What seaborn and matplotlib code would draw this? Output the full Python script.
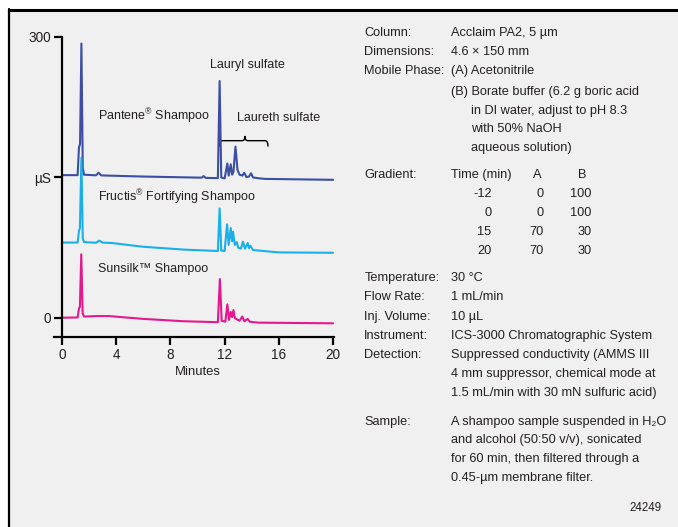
import matplotlib
matplotlib.use("Agg")
import matplotlib.pyplot as plt
from matplotlib.path import Path
from matplotlib.patches import PathPatch, Rectangle
from matplotlib.lines import Line2D
import seaborn as sns
import pandas as pd

# ---------------- data ----------------
pantene_t = [0, 1.15, 1.25, 1.33, 1.43, 1.53, 1.62, 2.5, 2.7, 2.9, 6, 10.3, 10.45, 10.6, 11.5,
             11.63, 11.75, 12.0, 12.2, 12.3, 12.45, 12.55, 12.65, 12.8, 12.95, 13.1, 13.3, 13.45,
             13.6, 13.8, 13.95, 14.1, 14.6, 15, 20]
pantene_v = [152.5, 152.5, 182, 186, 293, 160, 153, 152.3, 155, 152.2, 151, 149.8, 151.5, 149.6, 149.3,
             253, 150, 149, 165, 152, 164, 153, 156, 183, 158, 153, 152, 155,
             150.5, 151, 154.5, 150, 149, 148.5, 147.5]

fructis_t = [0, 1.15, 1.25, 1.32, 1.43, 1.53, 1.62, 2.5, 2.75, 3.0, 3.7, 6, 9, 11.5,
             11.63, 11.75, 12.0, 12.18, 12.3, 12.45, 12.55, 12.62, 12.75, 12.9, 13.0, 13.2,
             13.35, 13.5, 13.7, 13.8, 13.9, 14.1, 14.5, 16, 20]
fructis_v = [80.5, 80.5, 93, 96, 171, 85, 81, 80.3, 82.5, 80.5, 80, 76, 73, 71.5,
             117, 72, 71.5, 100, 78, 96, 82, 92, 78, 81, 75, 74,
             81.5, 74, 80, 74.5, 77, 72.5, 72, 70, 69.6]

sunsilk_t = [0, 1.15, 1.25, 1.32, 1.42, 1.52, 1.62, 2.5, 3.5, 6, 9, 11.5,
             11.65, 11.78, 12.05, 12.2, 12.32, 12.45, 12.55, 12.65, 12.75, 12.85, 13.1,
             13.3, 13.45, 13.7, 13.85, 14.5, 20]
sunsilk_v = [0.3, 0.5, 10, 12, 68, 5, 1.5, 2, 2, -1, -3.5, -4.5,
             41.5, -3, -4, 14.5, -2, 6.5, 1, 8.5, 0, -1, -3,
             1.5, -3.5, -1, -4, -5, -5.7]

x_ticks = [0, 4, 8, 12, 16, 20]
y_ticks = [0, 150, 300]
y_tick_labels = ["0", "\u00b5S", "300"]

colors = {"Pantene": "#3b4ea3", "Fructis": "#19afe9", "Sunsilk": "#e5178c"}

# ---------------- style ----------------
sns.set_theme(style="ticks")
plt.rcParams["font.family"] = ["Liberation Sans", "DejaVu Sans"]
plt.rcParams["mathtext.fontset"] = "custom"
plt.rcParams["mathtext.rm"] = "Liberation Sans"
FS = 9.2
LFS = 9.0
TXT = "#231f20"

W, H = 678, 527
fig = plt.figure(figsize=(W / 100, H / 100), dpi=100, facecolor="white")

# panel background and frame
fig.patches.append(Rectangle((10 / W, 0), 1, 1 - 10.5 / H, transform=fig.transFigure,
                             facecolor="#f0f0f0", edgecolor="none", zorder=-10))
fig.add_artist(Line2D([9.3 / W, 9.3 / W], [0, 1 - 9 / H], color="black", lw=1.6,
                      transform=fig.transFigure))
fig.add_artist(Line2D([8.5 / W, 1], [1 - 10 / H, 1 - 10 / H], color="black", lw=2.2,
                      transform=fig.transFigure))

# axes placement (pixels -> fraction)
left_px, right_px = 53.9, 334.4
top_px, bot_px = 37.0, 336.7
ax = fig.add_axes([left_px / W, 1 - bot_px / H, (right_px - left_px) / W, (bot_px - top_px) / H])
ax.set_facecolor("none")

frames = []
for name, t, v in [("Pantene", pantene_t, pantene_v),
                   ("Fructis", fructis_t, fructis_v),
                   ("Sunsilk", sunsilk_t, sunsilk_v)]:
    frames.append(pd.DataFrame({"Minutes": t, "signal": v, "sample": name}))
df = pd.concat(frames, ignore_index=True)

for name in ["Pantene", "Fructis", "Sunsilk"]:
    sns.lineplot(data=df[df["sample"] == name], x="Minutes", y="signal", color=colors[name],
                 lw=1.5, estimator=None, sort=False, ax=ax, legend=False)

ax.set_xlim(-0.6, 20.1)
ax.set_ylim(-20, 300)
ax.spines["left"].set_position(("data", 0))
ax.spines["left"].set_bounds(-20, 300)
ax.spines["top"].set_visible(False)
ax.spines["right"].set_visible(False)
for s in ["left", "bottom"]:
    ax.spines[s].set_linewidth(1.6)
    ax.spines[s].set_color("black")
ax.set_xticks(x_ticks)
ax.set_xticklabels([str(x) for x in x_ticks])
ax.set_yticks(y_ticks)
ax.set_yticklabels(y_tick_labels)
ax.tick_params(axis="both", direction="out", length=5.8, width=1.6, color="black",
               labelsize=9.8, labelcolor=TXT, pad=1.8)
ax.tick_params(axis="x", pad=2.6)
ax.set_xlabel("")
ax.set_ylabel("")

# brace over laureth peaks
verts = [(11.6, 183), (11.6, 189.3), (11.8, 189.3), (13.3, 189.3), (13.5, 189.3), (13.5, 194.3),
         (13.5, 189.3), (13.7, 189.3), (15.0, 189.3), (15.2, 189.3), (15.2, 183)]
codes = [Path.MOVETO, Path.CURVE3, Path.CURVE3, Path.LINETO, Path.CURVE3, Path.CURVE3,
         Path.CURVE3, Path.CURVE3, Path.LINETO, Path.CURVE3, Path.CURVE3]
ax.add_patch(PathPatch(Path(verts, codes), facecolor="none", edgecolor="black", lw=1.0))


def ftext(x, y, s, ha="left", va="center", size=FS):
    fig.text(x / W, 1 - y / H, s, ha=ha, va=va, fontsize=size, color=TXT)


ftext(247, 65, "Lauryl sulfate", ha="center", size=LFS)
ftext(98, 116, "Pantene$^{\\mathregular{\u00ae}}$ Shampoo", size=LFS)
ftext(237, 118, "Laureth sulfate", size=LFS)
ftext(98, 197, "Fructis$^{\\mathregular{\u00ae}}$ Fortifying Shampoo", size=LFS)
ftext(98, 269, "Sunsilk\u2122 Shampoo", size=LFS)
ftext(197.5, 372, "Minutes", ha="center", size=9.4)

# conditions panel
LX, VX, IX = 364.3, 450.7, 470.7
rows = [
    (33.3, "Column:", "Acclaim PA2, 5 \u00b5m", VX),
    (51.7, "Dimensions:", "4.6 \u00d7 150 mm", VX),
    (71.0, "Mobile Phase:", "(A) Acetonitrile", VX),
    (91.7, "", "(B) Borate buffer (6.2 g boric acid", VX),
    (110.7, "", "in DI water, adjust to pH 8.3", IX),
    (129.3, "", "with 50% NaOH", IX),
    (148.3, "", "aqueous solution)", IX),
    (175.0, "Gradient:", "Time (min)", VX),
    (278.3, "Temperature:", "30 \u00b0C", VX),
    (296.7, "Flow Rate:", "1 mL/min", VX),
    (316.7, "Inj. Volume:", "10 \u00b5L", VX),
    (336.0, "Instrument:", "ICS-3000 Chromatographic System", VX),
    (355.0, "Detection:", "Suppressed conductivity (AMMS III", VX),
    (374.0, "", "4 mm suppressor, chemical mode at", VX),
    (393.3, "", "1.5 mL/min with 30 mN sulfuric acid)", VX),
    (421.7, "Sample:", "A shampoo sample suspended in H\u2082O", VX),
    (440.0, "", "and alcohol (50:50 v/v), sonicated", VX),
    (459.0, "", "for 60 min, then filtered through a", VX),
    (477.7, "", "0.45-\u00b5m membrane filter.", VX),
]
for y, lab, val, vx in rows:
    if lab:
        ftext(LX, y, lab)
    ftext(vx, y, val)

ftext(537.7, 175.0, "A", ha="center")
ftext(582.2, 175.0, "B", ha="center")

grad_time = ["-12", "0", "15", "20"]
grad_a = ["0", "0", "70", "70"]
grad_b = ["100", "100", "30", "30"]
grad_y = [194.0, 212.7, 231.7, 250.7]
for y, tt, a, b in zip(grad_y, grad_time, grad_a, grad_b):
    ftext(491.7, y, tt, ha="right")
    ftext(544.0, y, a, ha="right")
    ftext(591.7, y, b, ha="right")

ftext(661.7, 507.7, "24249", ha="right", size=8.3)

fig.savefig("out.png", dpi=100, facecolor="white")
